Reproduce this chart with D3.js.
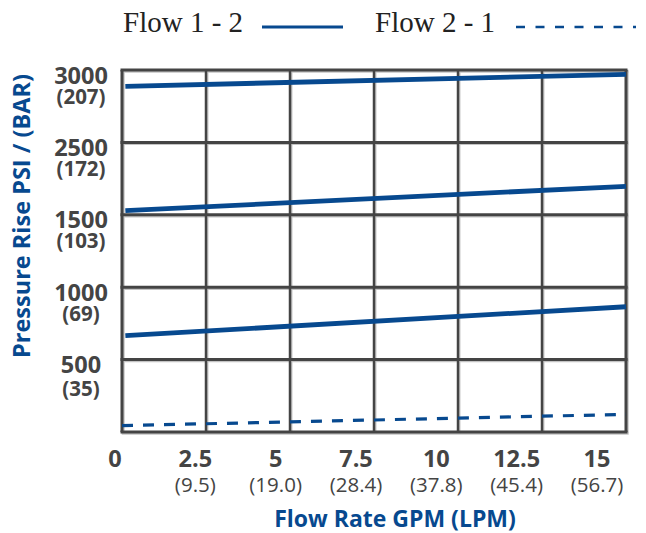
<!DOCTYPE html>
<html>
<head>
<meta charset="utf-8">
<script src="https://cdn.jsdelivr.net/npm/d3@7"></script>
<style>
  body { margin: 0; background: #fff; }
  svg { display: block; }
</style>
</head>
<body>
<div id="chart"></div>
<script>
// values
var xTicks = [0, 2.5, 5, 7.5, 10, 12.5, 15];
var xLpm = ["", "(9.5)", "(19.0)", "(28.4)", "(37.8)", "(45.4)", "(56.7)"];
var yTicks = [3000, 2500, 1500, 1000, 500, 0];
var yBar = ["(207)", "(172)", "(103)", "(69)", "(35)", ""];

var flowGpm = [0.1, 15];
var flow12a = [2887, 2970];
var flow12b = [1557, 1894];
var flow12c = [665, 865];
var flow21Gpm = [0, 15];
var flow21 = [44, 122];

var w = 646, h = 533;
var padLeft = 122, padRight = 626, padTop = 70, padBottom = 432;
var blue = "#07498f", grid = "#444";

var svg = d3.select("#chart").append("svg")
    .attr("width", w)
    .attr("height", h);

var x = d3.scaleLinear().domain([0, 15]).range([padLeft, padRight]);
// the axis is not linear: grid rows are evenly spaced between the listed values
var step = (padBottom - padTop) / (yTicks.length - 1);
var y = d3.scaleLinear()
    .domain(yTicks.slice().reverse())
    .range(yTicks.map(function (d, i) { return padTop + i * step; }).reverse());
// labels sit slightly left of their grid lines in the original
var xLab = d3.scaleLinear().domain([0, 15]).range([115, 597]);

// grid, with a faint grey shadow like the original
function drawGrid(g, colour, width, dx) {
    g.selectAll("line.h")
        .data(yTicks)
        .enter().append("line")
        .attr("class", "h")
        .attr("x1", padLeft - 1.5 + dx).attr("x2", padRight + 1.5 + dx)
        .attr("y1", function (d) { return y(d) + dx; })
        .attr("y2", function (d) { return y(d) + dx; })
        .attr("stroke", colour).attr("stroke-width", width);
    g.selectAll("line.v")
        .data(xTicks)
        .enter().append("line")
        .attr("class", "v")
        .attr("x1", function (d) { return x(d) + dx; })
        .attr("x2", function (d) { return x(d) + dx; })
        .attr("y1", padTop + dx).attr("y2", padBottom + dx)
        .attr("stroke", colour)
        .attr("stroke-width", function (d, i) { return (i == 0 || i == xTicks.length - 1) ? width : width - 0.5; });
}
drawGrid(svg.append("g"), "#c4c4c4", 3, 1.2);
drawGrid(svg.append("g"), grid, 3, 0);

// y labels
var yl = svg.append("g")
    .attr("font-family", "'Open Sans', sans-serif")
    .attr("fill", "#444")
    .attr("text-anchor", "middle");
yl.selectAll("text.psi")
    .data(yTicks.slice(0, 5))
    .enter().append("text")
    .attr("class", "psi")
    .attr("x", 81)
    .attr("y", function (d) { return y(d) + 13.5; })
    .attr("font-size", 23.5).attr("font-weight", 700)
    .text(function (d) { return d; });
yl.selectAll("text.bar")
    .data(yBar.slice(0, 5))
    .enter().append("text")
    .attr("class", "bar")
    .attr("x", 81)
    .attr("y", function (d, i) { return y(yTicks[i]) + (i == 4 ? 36 : 33.5); })
    .attr("font-size", 20.5).attr("font-weight", 700)
    .text(function (d) { return d; });

// x labels
var xl = svg.append("g")
    .attr("font-family", "'Open Sans', sans-serif")
    .attr("fill", "#444")
    .attr("text-anchor", "middle");
xl.selectAll("text.gpm")
    .data(xTicks)
    .enter().append("text")
    .attr("class", "gpm")
    .attr("x", function (d) { return xLab(d); })
    .attr("y", 467)
    .attr("font-size", 23.5).attr("font-weight", 700)
    .text(function (d) { return d; });
xl.selectAll("text.lpm")
    .data(xLpm)
    .enter().append("text")
    .attr("class", "lpm")
    .attr("x", function (d, i) { return xLab(xTicks[i]); })
    .attr("y", 492)
    .attr("font-size", 20.5)
    .text(function (d) { return d; });

// axis titles
svg.append("text")
    .attr("x", 395).attr("y", 527)
    .attr("text-anchor", "middle")
    .attr("font-family", "'Open Sans', sans-serif")
    .attr("font-size", 23).attr("font-weight", 700)
    .attr("fill", blue)
    .text("Flow Rate GPM (LPM)");

svg.append("text")
    .attr("transform", "translate(30,216) rotate(-90)")
    .attr("text-anchor", "middle")
    .attr("font-family", "'Open Sans', sans-serif")
    .attr("font-size", 23.5).attr("font-weight", 700)
    .attr("fill", blue)
    .text("Pressure Rise PSI / (BAR)");

// lines
var line = d3.line()
    .x(function (d) { return x(d[0]); })
    .y(function (d) { return y(d[1]); });

[flow12a, flow12b, flow12c].forEach(function (s) {
    svg.append("path")
        .datum(d3.zip(flowGpm, s))
        .attr("d", line)
        .attr("fill", "none")
        .attr("stroke", blue)
        .attr("stroke-width", 4.8);
});

svg.append("path")
    .datum(d3.zip(flow21Gpm, flow21))
    .attr("d", line)
    .attr("fill", "none")
    .attr("stroke", blue)
    .attr("stroke-width", 3.2)
    .attr("stroke-dasharray", "11,10");

// legend
var lg = svg.append("g")
    .attr("font-family", "'Liberation Serif', serif")
    .attr("font-size", 29)
    .attr("fill", "#222");
lg.append("text").attr("x", 123).attr("y", 32).text("Flow 1 - 2");
lg.append("line")
    .attr("x1", 262).attr("x2", 343).attr("y1", 27).attr("y2", 27)
    .attr("stroke", blue).attr("stroke-width", 3);
lg.append("text").attr("x", 375).attr("y", 32).text("Flow 2 - 1");
lg.append("line")
    .attr("x1", 516).attr("x2", 636).attr("y1", 27).attr("y2", 27)
    .attr("stroke", blue).attr("stroke-width", 2.5)
    .attr("stroke-dasharray", "9,10.5");
</script>
</body>
</html>
